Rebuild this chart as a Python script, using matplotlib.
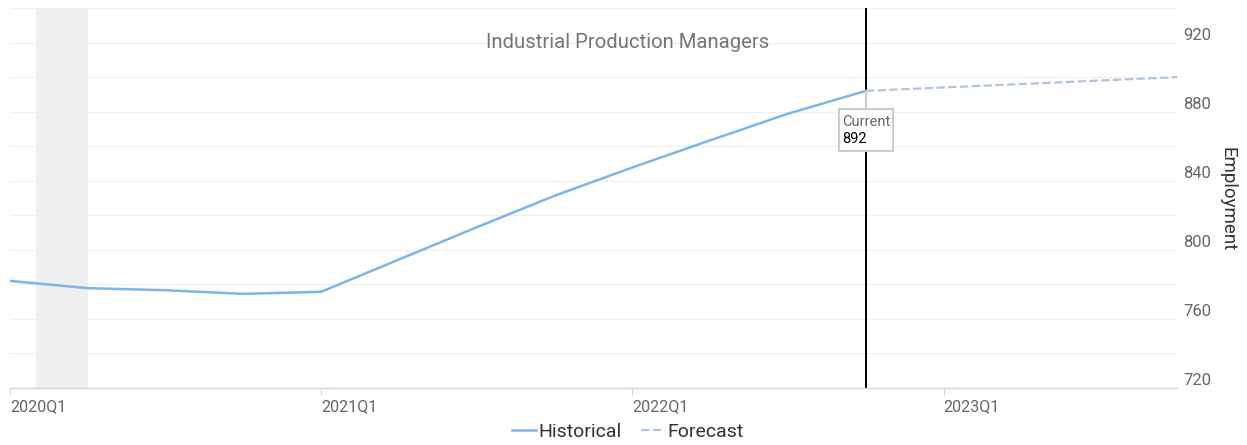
import matplotlib.pyplot as plt
from matplotlib.patches import Rectangle
from matplotlib.lines import Line2D

plt.rcParams['font.family'] = ['Roboto', 'DejaVu Sans']

title = 'Industrial Production Managers'
hist_quarters = ['2020Q1', '2020Q2', '2020Q3', '2020Q4',
                 '2021Q1', '2021Q2', '2021Q3', '2021Q4',
                 '2022Q1', '2022Q2', '2022Q3', '2022Q4']
hist_values = [782, 777.8, 776.6, 774.5, 775.7, 794.4, 813.1, 831.3,
               847.7, 863.4, 878.8, 892]
fc_quarters = ['2022Q4', '2023Q1', '2023Q2', '2023Q3', '2023Q4']
fc_values = [892, 894, 896, 898, 900]
current_quarter = '2022Q4'
current_value = 892
recession = ('2020-02', '2020-04')
xtick_labels = ['2020Q1', '2021Q1', '2022Q1', '2023Q1']
ytick_labels = [720, 760, 800, 840, 880, 920]


def qpos(q):
    # quarters since 2020Q1
    return (int(q[:4]) - 2020) * 4 + int(q[-1]) - 1


def mpos(m):
    return ((int(m[:4]) - 2020) * 12 + int(m[5:]) - 1) / 3


W, H = 1247, 445
fig = plt.figure(figsize=(W / 100, H / 100), dpi=100)
ax = fig.add_axes([10 / W, 1 - 388 / H, 1167 / W, 380 / H])

ax.set_xlim(0, 15)
ax.set_ylim(720, 940)

# grid every 20
for v in range(740, 941, 20):
    ax.axhline(v, color='#efefef', lw=0.8, zorder=0)

ax.axvspan(mpos(recession[0]), mpos(recession[1]), color='#efefef', lw=0, zorder=0.5)

ax.plot([qpos(q) for q in hist_quarters], hist_values, color='#7cb5ec', lw=1.8,
        zorder=3, solid_capstyle='round')
ax.plot([qpos(q) for q in fc_quarters], fc_values, color='#b0c4de', lw=1.6,
        dashes=(3.8, 1.5), zorder=3)

cx = qpos(current_quarter)
ax.axvline(cx, color='black', lw=1.4, zorder=2)

for s in ['left', 'right', 'top']:
    ax.spines[s].set_visible(False)
ax.spines['bottom'].set_color('#ccd6eb')
ax.spines['bottom'].set_linewidth(1)

ax.set_xticks([qpos(q) for q in xtick_labels])
ax.set_xticklabels(xtick_labels, ha='left', color='#666666', fontsize=11.5)
ax.tick_params(axis='x', length=5, color='#ccd6eb', pad=3)

ax.set_yticks([])
for v in ytick_labels:
    ax.annotate(str(v), xy=(1, v), xycoords=('axes fraction', 'data'),
                xytext=(6, 7), textcoords='offset pixels',
                ha='left', va='center', color='#666666', fontsize=12)

# current label box
fig.canvas.draw()
px, py = ax.transData.transform((cx, current_value))
box = Rectangle(((px - 27) / W, (py - 60) / H), 54 / W, 42 / H,
                transform=fig.transFigure, facecolor='white',
                edgecolor='#cccccc', lw=1.5, zorder=5)
fig.patches.append(box)
fig.add_artist(Line2D([px / W, px / W], [py / H, (py - 18) / H],
                      transform=fig.transFigure, color='#cccccc', lw=1.5, zorder=5))
fig.text((px - 24) / W, (py - 31) / H, 'Current', color='#666666', fontsize=10.5,
         ha='left', va='center', zorder=6)
fig.text((px - 24) / W, (py - 48) / H, str(current_value), color='black', fontsize=10.5,
         ha='left', va='center', zorder=6)

fig.text(628 / W, 1 - 42 / H, title, ha='center', va='center', color='#757575',
         fontsize=14.6)
fig.text(1228 / W, 1 - 199 / H, 'Employment', rotation=270, ha='center', va='center',
         color='#333333', fontsize=13.5)

handles = [Line2D([], [], color='#7cb5ec', lw=1.8),
           Line2D([], [], color='#b0c4de', lw=1.6, dashes=(3.8, 1.5))]
fig.legend(handles, ['Historical', 'Forecast'], loc='center', ncol=2,
           bbox_to_anchor=(628 / W, 1 - 432 / H), frameon=False, fontsize=14,
           handlelength=1.2, handletextpad=0.15, columnspacing=1.0,
           labelcolor='#333333', borderpad=0)

fig.savefig('out.png', dpi=100)
